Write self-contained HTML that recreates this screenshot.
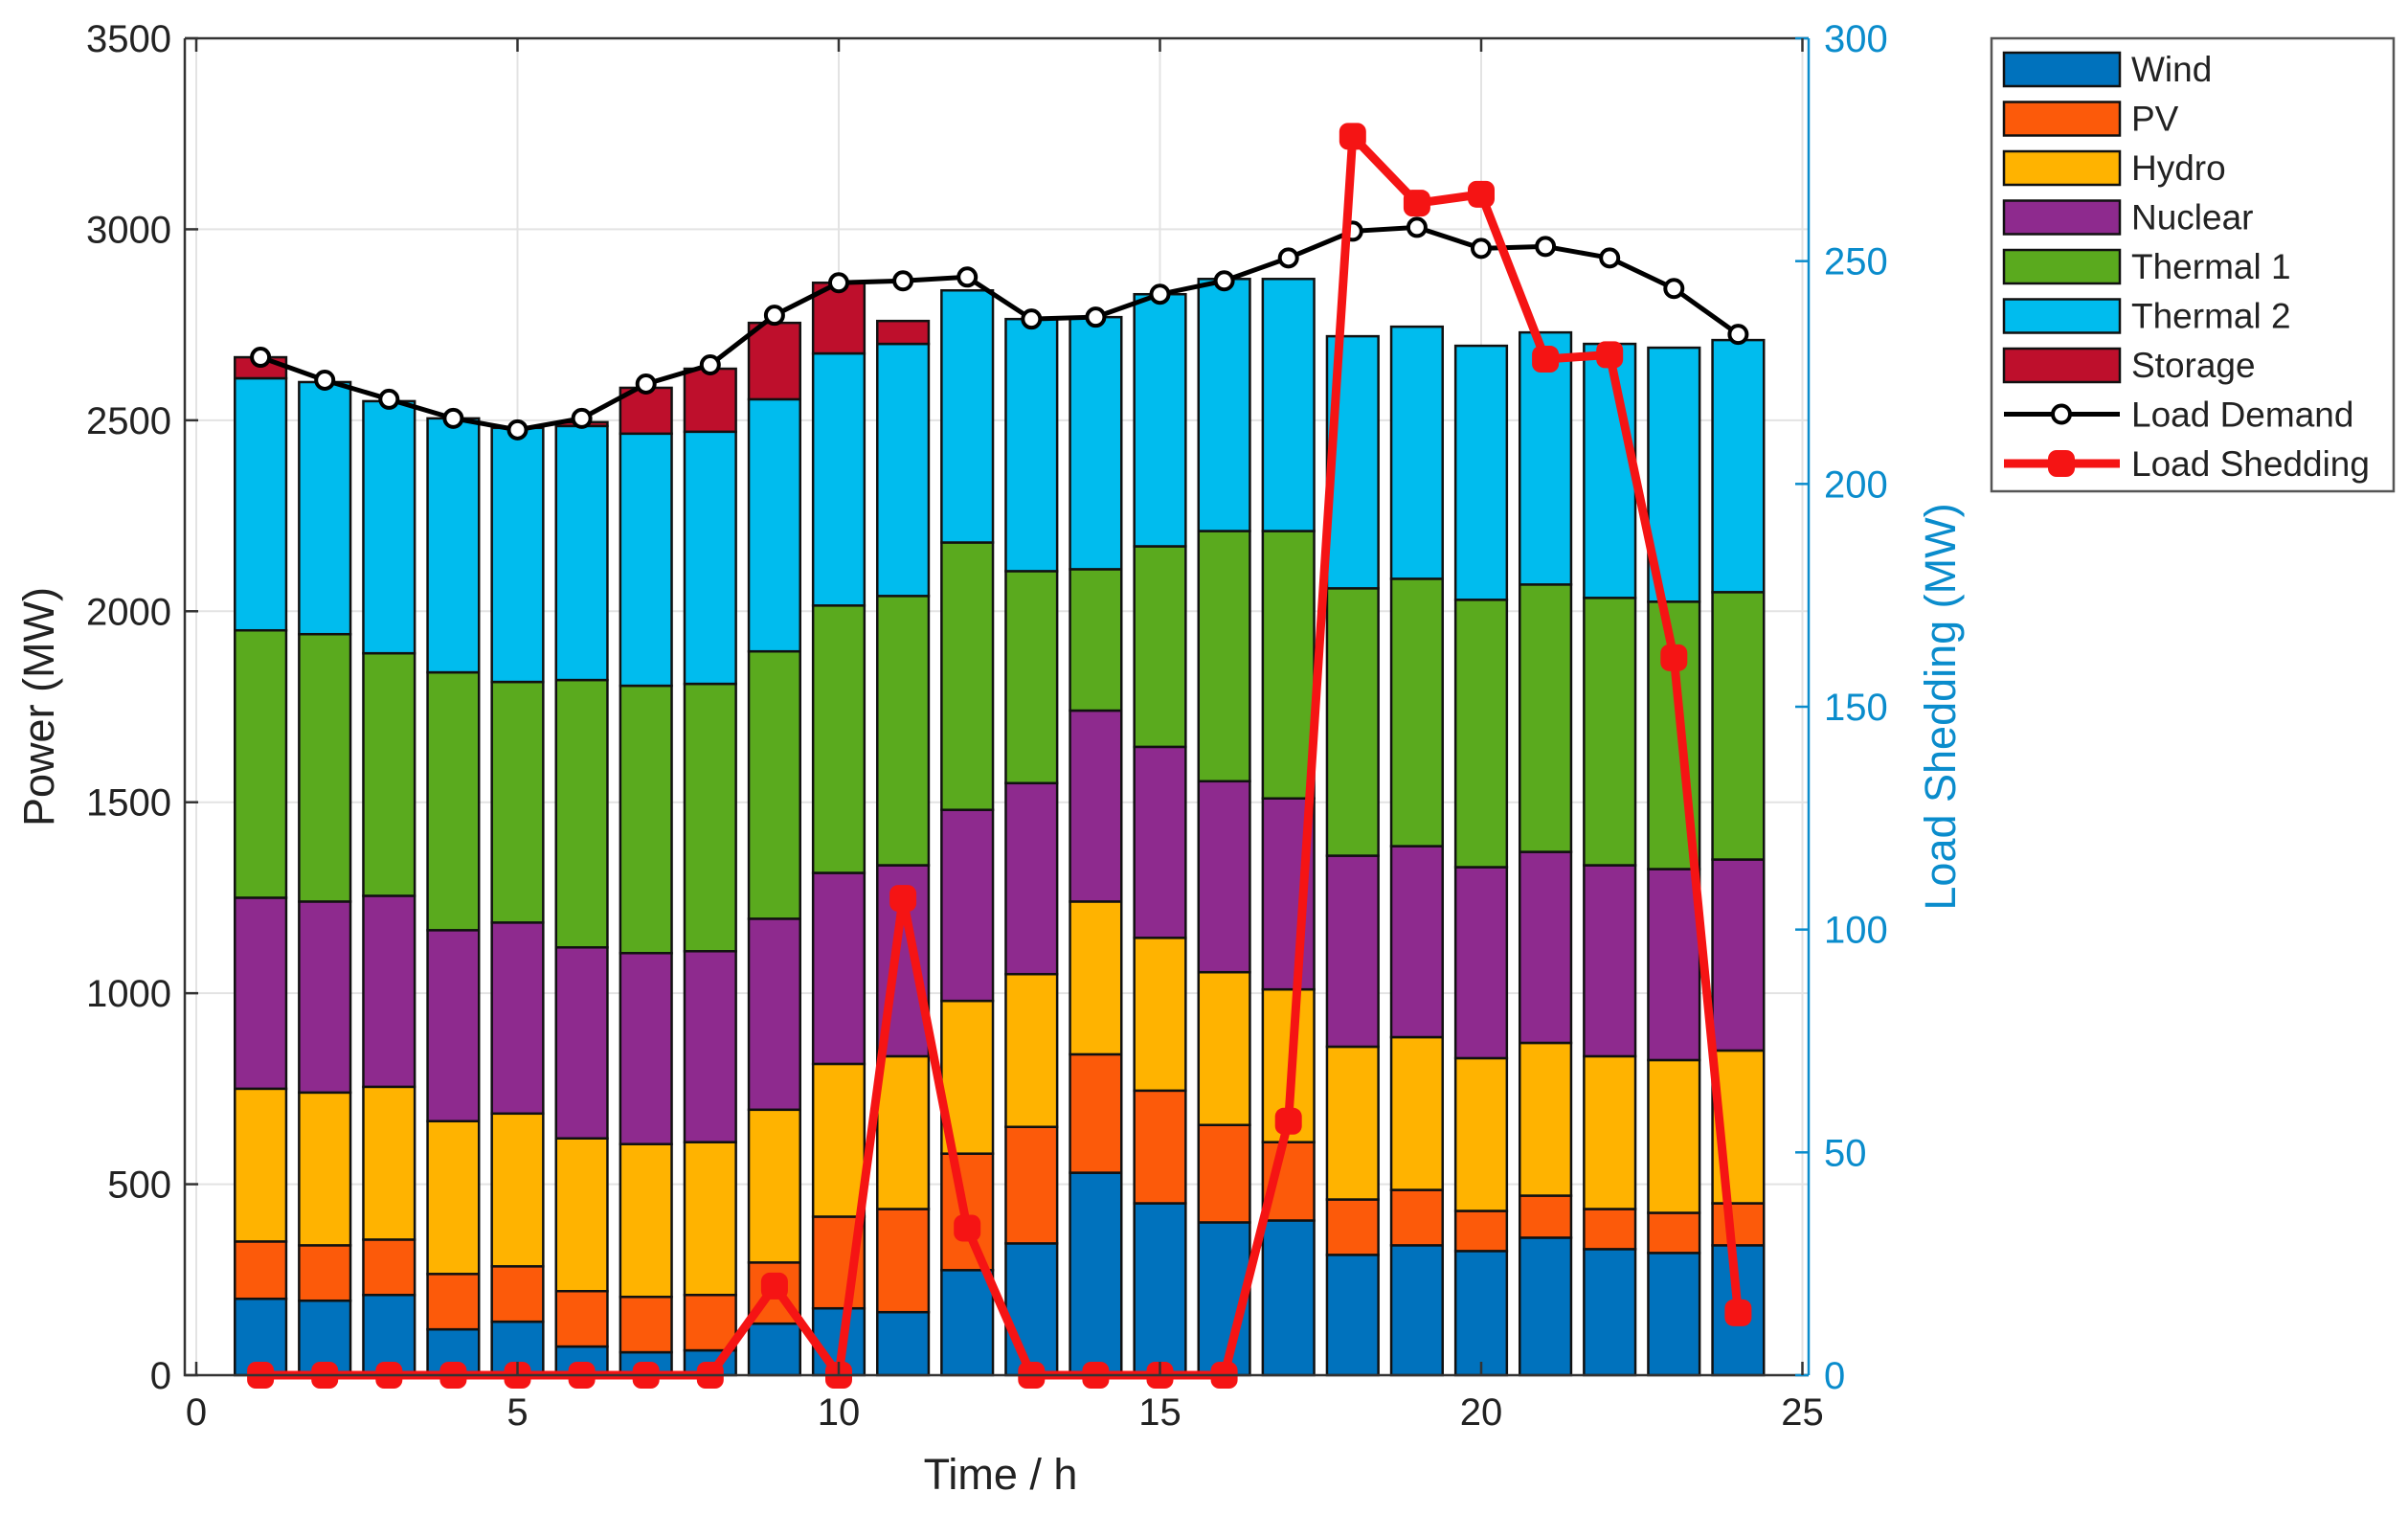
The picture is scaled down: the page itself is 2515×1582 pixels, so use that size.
<!DOCTYPE html>
<html><head><meta charset="utf-8"><style>
html,body{margin:0;padding:0;background:#fff;}
svg text{font-family:"Liberation Sans",Arial,sans-serif;}
</style></head><body>
<svg id="chart" width="2515" height="1577" xmlns="http://www.w3.org/2000/svg">
<rect x="0" y="0" width="2515" height="1577" fill="#fff"/>
<g id="grid"></g>
<g id="bars"></g>
<g id="lines"></g>
<g id="axes"></g>
<text x="0" y="0" transform="translate(56,738) rotate(-90)" text-anchor="middle" font-size="45" fill="#222">Power (MW)</text>
<text x="0" y="0" transform="translate(2042,738) rotate(-90)" text-anchor="middle" font-size="45" fill="#0a8ccc">Load Shedding (MW)</text>
<text x="1045" y="1555" text-anchor="middle" font-size="45" fill="#222">Time / h</text>
<g id="legend"></g>
</svg>
<script>
const hours=[1,2,3,4,5,6,7,8,9,10,11,12,13,14,15,16,17,18,19,20,21,22,23,24];
const wind=[200,195,210,120,140,75,60,65,135,175,165,275,345,530,450,400,405,315,340,325,360,330,320,340];
const pv=[150,145,145,145,145,145,145,145,160,240,270,305,305,310,295,255,205,145,145,105,110,105,105,110];
const hydro=[400,400,400,400,400,400,400,400,400,400,400,400,400,400,400,400,400,400,400,400,400,400,400,400];
const nuclear=[500,500,500,500,500,500,500,500,500,500,500,500,500,500,500,500,500,500,500,500,500,500,500,500];
const thermal1=[700,700,635,675,630,700,700,700,700,700,705,700,555,370,525,655,700,700,700,700,700,700,700,700];
const thermal2=[660,660,660,665,665,665,660,660,660,660,660,660,660,660,660,660,660,660,660,665,660,665,665,660];
const storage=[55,0,0,0,0,10,120,165,200,185,60,0,0,0,0,0,0,0,0,0,0,0,0,0];
const loadDemand=[2665,2605,2555,2505,2475,2505,2595,2645,2775,2860,2865,2875,2765,2770,2830,2865,2925,2995,3005,2950,2955,2925,2845,2725];
const loadShedding=[0,0,0,0,0,0,0,0,20,0,107,33,0,0,0,0,57,278,263,265,228,229,161,14];
const yTicks=[0,500,1000,1500,2000,2500,3000,3500];
const y2Ticks=[0,50,100,150,200,250,300];
const xTicks=[0,5,10,15,20,25];
const seriesNames=["Wind","PV","Hydro","Nuclear","Thermal 1","Thermal 2","Storage"];
const seriesColors=["#0072bd","#fc5a0a","#ffb300","#8e2a8e","#5aaa1e","#00bcee","#be0f2c"];
const series=[wind,pv,hydro,nuclear,thermal1,thermal2,storage];

const L=193,R=1889,T=40,B=1436;
const x=v=>205+v*67.1;
const y=v=>B-v*(B-T)/3500;
const y2=v=>B-v*(B-T)/300;
const NS="http://www.w3.org/2000/svg";
function mk(tag,attrs,parent){const e=document.createElementNS(NS,tag);for(const k in attrs)e.setAttribute(k,attrs[k]);parent.appendChild(e);return e;}
const grid=document.getElementById('grid'),bars=document.getElementById('bars'),lines=document.getElementById('lines'),axes=document.getElementById('axes'),legend=document.getElementById('legend');

yTicks.forEach(t=>{const g=mk('line',{x1:L,x2:R,y1:y(t),y2:y(t),stroke:'#e3e3e3','stroke-width':2},grid);

});
xTicks.forEach(t=>{const g=mk('line',{x1:x(t),x2:x(t),y1:T,y2:B,stroke:'#e3e3e3','stroke-width':2},grid);

});

const bw=0.8*67.1;
hours.forEach((h,i)=>{let acc=0;series.forEach((s,k)=>{const v=s[i];if(v<=0){return;}
const r=mk('rect',{x:x(h)-bw/2,y:y(acc+v),width:bw,height:y(acc)-y(acc+v),fill:seriesColors[k],stroke:'#111','stroke-width':2.5},bars);


acc+=v;});});

let d=hours.map((h,i)=>(i?'L':'M')+x(h)+','+y(loadDemand[i])).join(' ');
const ld=mk('path',{d:d,fill:'none',stroke:'#000','stroke-width':5},lines);


hours.forEach((h,i)=>{const c=mk('circle',{cx:x(h),cy:y(loadDemand[i]),r:9,fill:'#fff',stroke:'#000','stroke-width':4},lines);

});
d=hours.map((h,i)=>(i?'L':'M')+x(h)+','+y2(loadShedding[i])).join(' ');
const ls=mk('path',{d:d,fill:'none',stroke:'#f51414','stroke-width':9,'stroke-linejoin':'round'},lines);


hours.forEach((h,i)=>{const c=mk('rect',{x:x(h)-14,y:y2(loadShedding[i])-14,width:28,height:28,rx:9,fill:'#f51414'},lines);

});

const box=mk('path',{d:`M${L},${T} L${R},${T} M${L},${T} L${L},${B} L${R},${B}`,fill:'none',stroke:'#333','stroke-width':2.5},axes);


const rax=mk('line',{x1:R,x2:R,y1:T,y2:B,stroke:'#0a8ccc','stroke-width':2.5},axes);


yTicks.forEach(t=>{mk('line',{x1:L,x2:L+14,y1:y(t),y2:y(t),stroke:'#333','stroke-width':2.5},axes);
const tx=mk('text',{x:L-14,y:y(t)+14,'text-anchor':'end','font-size':40,fill:'#222'},axes);tx.textContent=t;

});
y2Ticks.forEach(t=>{mk('line',{x1:R-14,x2:R,y1:y2(t),y2:y2(t),stroke:'#0a8ccc','stroke-width':2.5},axes);
const tx=mk('text',{x:R+16,y:y2(t)+14,'text-anchor':'start','font-size':40,fill:'#0a8ccc'},axes);tx.textContent=t;

});
xTicks.forEach(t=>{mk('line',{x1:x(t),x2:x(t),y1:B,y2:B-14,stroke:'#333','stroke-width':2.5},axes);
mk('line',{x1:x(t),x2:x(t),y1:T,y2:T+14,stroke:'#333','stroke-width':2.5},axes);
const tx=mk('text',{x:x(t),y:B+52,'text-anchor':'middle','font-size':40,fill:'#222'},axes);tx.textContent=t;

});

const lb=mk('rect',{x:2080,y:40,width:420,height:473,fill:'#fff',stroke:'#555','stroke-width':2.5},legend);


const names=seriesNames.concat(["Load Demand","Load Shedding"]);
names.forEach((n,i)=>{const cy=72+i*51.5;
if(i<7){mk('rect',{x:2093,y:cy-17,width:121,height:35,fill:seriesColors[i],stroke:'#111','stroke-width':2.5},legend);}
else if(i==7){mk('line',{x1:2093,x2:2214,y1:cy,y2:cy,stroke:'#000','stroke-width':5},legend);mk('circle',{cx:2153,cy:cy,r:9,fill:'#fff',stroke:'#000','stroke-width':4},legend);}
else{mk('line',{x1:2093,x2:2214,y1:cy,y2:cy,stroke:'#f51414','stroke-width':9},legend);mk('rect',{x:2139,y:cy-14,width:28,height:28,rx:9,fill:'#f51414'},legend);}
const t=mk('text',{x:2226,y:cy+13,'font-size':37,fill:'#222'},legend);t.textContent=n;

});
</script>
</body></html>
